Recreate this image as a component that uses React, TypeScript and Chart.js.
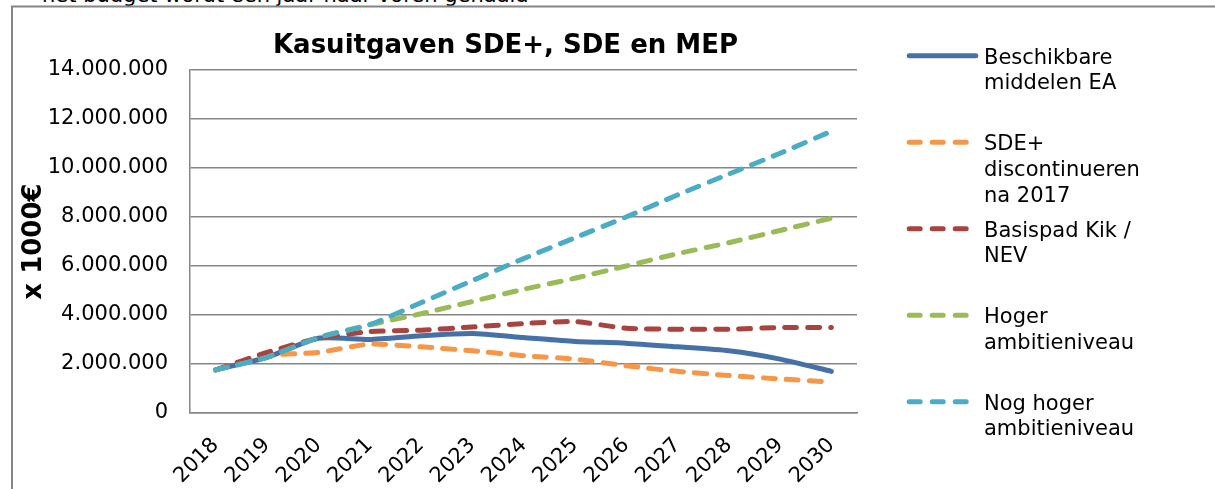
import React, { useEffect, useRef } from "react";
import { Chart, registerables } from "chart.js";

Chart.register(...registerables);

const years = ["2018", "2019", "2020", "2021", "2022", "2023", "2024", "2025", "2026", "2027", "2028", "2029", "2030"];

const beschikbareMiddelen = [1760000, 2270000, 3050000, 3000000, 3150000, 3240000, 3080000, 2920000, 2850000, 2700000, 2540000, 2200000, 1700000];
const sdeDiscontinueren = [1760000, 2340000, 2470000, 2810000, 2700000, 2540000, 2340000, 2200000, 1930000, 1700000, 1530000, 1390000, 1260000];
const basispadKikNev = [1760000, 2470000, 3050000, 3320000, 3380000, 3510000, 3650000, 3730000, 3460000, 3420000, 3420000, 3490000, 3490000];
const hogerAmbitie = [1760000, 2270000, 3080000, 3600000, 4050000, 4550000, 5050000, 5500000, 6000000, 6500000, 6950000, 7450000, 7950000];
const nogHogerAmbitie = [1760000, 2270000, 3080000, 3600000, 4500000, 5400000, 6300000, 7150000, 8000000, 8900000, 9750000, 10600000, 11500000];

const seriesNames = [
  "Beschikbare middelen EA",
  "SDE+ discontinueren na 2017",
  "Basispad Kik / NEV",
  "Hoger ambitieniveau",
  "Nog hoger ambitieniveau",
];
const legendLines = [
  ["Beschikbare", "middelen EA"],
  ["SDE+", "discontinueren", "na 2017"],
  ["Basispad Kik /", "NEV"],
  ["Hoger", "ambitieniveau"],
  ["Nog hoger", "ambitieniveau"],
];
const seriesColors = ["#4671A8", "#F79646", "#A8433F", "#9BBB59", "#4BACC6"];
const seriesDashed = [false, true, true, true, true];

const chartTitle = "Kasuitgaven SDE+, SDE en MEP";
const yAxisTitle = "x 1000€";
const pageText = "het budget wordt een jaar naar voren gehaald";

const yTicks = { min: 0, max: 14000000, step: 2000000 };

const FONT = "'DejaVu Sans', Verdana, sans-serif";
const GRID = "#868686";

function formatNL(v: number): string {
  return String(Math.round(v)).replace(/\B(?=(\d{3})+(?!\d))/g, ".");
}

const decorPlugin = {
  id: "decor",
  beforeDraw(chart: any) {
    const ctx = chart.ctx;
    ctx.save();
    ctx.strokeStyle = GRID;
    ctx.lineWidth = 2;
    ctx.beginPath();
    ctx.moveTo(12, 489);
    ctx.lineTo(12, 6.5);
    ctx.lineTo(1215, 6.5);
    ctx.stroke();
    ctx.restore();
  },
  afterDraw(chart: any) {
    const ctx = chart.ctx;
    ctx.save();
    // title
    ctx.fillStyle = "#000";
    ctx.font = `bold 26px ${FONT}`;
    ctx.textAlign = "center";
    ctx.textBaseline = "alphabetic";
    ctx.fillText(chartTitle, 505.5, 53);
    // legend
    chart.data.datasets.forEach((ds: any, i: number) => {
      const y = 55.7 + i * 86.5;
      ctx.strokeStyle = ds.borderColor;
      ctx.lineWidth = 5;
      ctx.lineCap = "round";
      ctx.setLineDash(ds.borderDash && ds.borderDash.length ? [11, 12] : []);
      ctx.beginPath();
      ctx.moveTo(909.2, y);
      ctx.lineTo(ds.borderDash && ds.borderDash.length ? 966.2 : 975.8, y);
      ctx.stroke();
      ctx.setLineDash([]);
      ctx.fillStyle = "#000";
      ctx.font = `21px ${FONT}`;
      ctx.textAlign = "left";
      legendLines[i].forEach((line, k) => {
        ctx.fillText(line, 984, y + 8 + k * 25.7);
      });
    });
    ctx.restore();
  },
};

export default function App() {
  const canvasRef = useRef<HTMLCanvasElement | null>(null);

  useEffect(() => {
    if (!canvasRef.current) return;
    const allSeries = [beschikbareMiddelen, sdeDiscontinueren, basispadKikNev, hogerAmbitie, nogHogerAmbitie];
    const chart = new Chart(canvasRef.current, {
      type: "line",
      data: {
        labels: years,
        datasets: allSeries.map((data, i) => ({
          label: seriesNames[i],
          data,
          borderColor: seriesColors[i],
          backgroundColor: seriesColors[i],
          borderWidth: 5,
          borderDash: seriesDashed[i] ? [12, 11] : [],
          borderCapStyle: "round" as const,
          borderJoinStyle: "round" as const,
          pointRadius: 0,
          pointHoverRadius: 0,
          tension: 0.2,
          fill: false,
          order: allSeries.length - i,
        })),
      },
      options: {
        animation: false,
        responsive: false,
        devicePixelRatio: 1,
        layout: { padding: { top: 70, right: 358, left: 0, bottom: 0 } },
        plugins: {
          legend: { display: false },
          title: { display: false },
          tooltip: { enabled: false },
        },
        scales: {
          x: {
            type: "category",
            offset: true,
            grid: { display: false, drawTicks: false },
            border: { display: true, color: GRID, width: 1.5 },
            ticks: {
              color: "#000",
              font: { family: FONT, size: 21 },
              minRotation: 45,
              maxRotation: 45,
              padding: 20,
              autoSkip: false,
            },
            afterFit: (scale: any) => {
              scale.height = 76;
            },
          },
          y: {
            min: yTicks.min,
            max: yTicks.max,
            grid: { color: GRID, lineWidth: 1.5, drawTicks: false },
            border: { display: true, color: GRID, width: 1.5 },
            ticks: {
              stepSize: yTicks.step,
              color: "#000",
              font: { family: FONT, size: 21 },
              padding: 22,
              callback: (v: any) => formatNL(Number(v)),
            },
            title: {
              display: true,
              text: yAxisTitle,
              color: "#000",
              font: { family: FONT, size: 26, weight: "bold" },
              padding: { top: 19, bottom: 0 },
            },
            afterFit: (scale: any) => {
              scale.width = 190;
            },
          },
        },
      },
      plugins: [decorPlugin],
    } as any);
    return () => chart.destroy();
  }, []);

  return (
    <div style={{ position: "fixed", left: 0, top: 0, width: 1215, height: 489, overflow: "hidden", background: "#fff" }}>
      <div
        style={{
          position: "absolute",
          left: 42,
          top: -15,
          fontFamily: FONT,
          fontSize: 21,
          lineHeight: "21px",
          color: "#000",
          whiteSpace: "nowrap",
        }}
      >
        {pageText}
      </div>
      <canvas ref={canvasRef} width={1215} height={489} style={{ position: "absolute", left: 0, top: 0 }} />
    </div>
  );
}
